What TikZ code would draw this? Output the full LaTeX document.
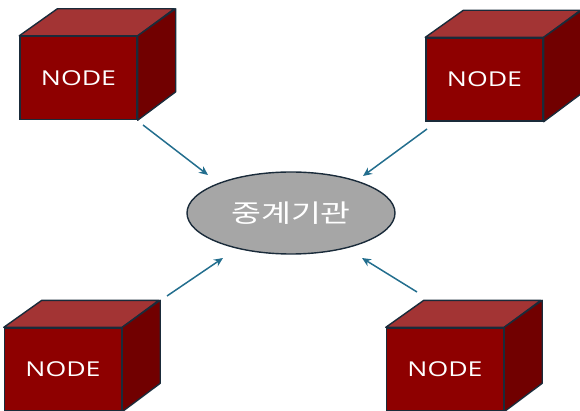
\documentclass[tikz,border=0pt]{standalone}
\usepackage{fontspec}
\setmainfont{Open Sans}
\newfontfamily\krfont{Noto Sans CJK KR}
\usetikzlibrary{shapes.geometric,arrows.meta}

\definecolor{frontred}{HTML}{8E0000}
\definecolor{topred}{HTML}{A33434}
\definecolor{sidered}{HTML}{710000}
\definecolor{edgenavy}{HTML}{1A2B3A}
\definecolor{hubgray}{HTML}{A6A6A6}
\definecolor{linkblue}{HTML}{236E8E}

% wide lettering
\newcommand\widetext[1]{\scalebox{1.3}[1]{#1}}

\tikzset{
  frontface/.style={draw=edgenavy, line width=1.4pt, fill=frontred,
    minimum width=117pt, minimum height=83pt, inner sep=0pt,
    text=white, font=\fontsize{20.5}{24}\selectfont},
  topface/.style={draw=edgenavy, line width=1.4pt, fill=topred, line join=round},
  sideface/.style={draw=edgenavy, line width=1.4pt, fill=sidered, line join=round},
  hub/.style={ellipse, draw=edgenavy, line width=1.4pt, fill=hubgray,
    minimum width=208pt, minimum height=82pt, inner sep=0pt,
    text=white, font=\krfont\fontsize{25}{30}\selectfont},
  link/.style={draw=linkblue, line width=1.5pt,
    -{Stealth[length=9pt,width=8pt]}}
}

% draws the top and right faces of a box whose front face is node #1
\newcommand\boxsides[1]{%
  \path[topface] (#1.north west) -- ++(38,-27) -- ++(117,0)
    -- (#1.north east) -- cycle;
  \path[sideface] (#1.north east) -- ++(38,-27) -- ++(0,83)
    -- (#1.south east) -- cycle;
}

\begin{document}
\begin{tikzpicture}[x=1pt, y=-1pt]
  \useasboundingbox (0,0) rectangle (580,411);

  % four boxes
  \node[frontface] (n1) at (78.5,78) {\widetext{NODE}};
  \node[frontface] (n2) at (484.5,79.5) {\widetext{NODE}};
  \node[frontface] (n3) at (63,369.5) {\widetext{NODE}};
  \node[frontface] (n4) at (445,369.5) {\widetext{NODE}};
  \boxsides{n1}
  \boxsides{n2}
  \boxsides{n3}
  \boxsides{n4}

  % relay agency in the middle
  \node[hub] (hub) at (291,213) {\widetext{중계기관}};

  % arrow ends
  \coordinate (s1) at (143,125);
  \coordinate (e1) at (208,175);
  \coordinate (s2) at (427,129);
  \coordinate (e2) at (363,176);
  \coordinate (s3) at (167,296);
  \coordinate (e3) at (223,258);
  \coordinate (s4) at (417,292);
  \coordinate (e4) at (362,258);

  \draw[link] (s1) -- (e1);
  \draw[link] (s2) -- (e2);
  \draw[link] (s3) -- (e3);
  \draw[link] (s4) -- (e4);
\end{tikzpicture}
\end{document}
